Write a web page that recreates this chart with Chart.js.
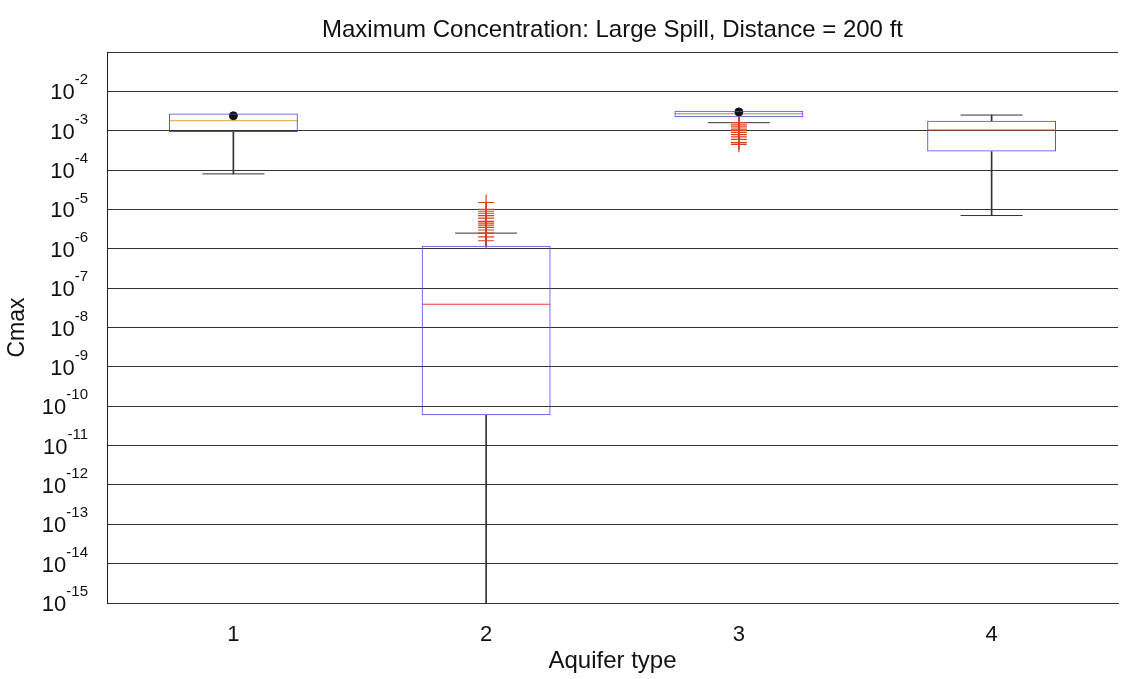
<!DOCTYPE html>
<html>
<head>
    <title>Maximum Concentration</title>
    <script src="https://cdn.jsdelivr.net/npm/chart.js"></script>
    <style>
        body { margin: 0; background: #fff; }
    </style>
</head>
<body>
    <canvas id="myChart" width="1122" height="679"></canvas>

    <script>
        // aquifer types on the x axis
        var categories = ["1", "2", "3", "4"];

        // box statistics per aquifer type (Cmax, log axis)
        var q1 = [9.3e-4, 5.9e-11, 2.2e-3, 2.95e-4];
        var q3 = [2.75e-3, 1.2e-6, 3.2e-3, 1.8e-3];
        var medians = [1.8e-3, 3.9e-8, 2.7e-3, 1.05e-3];
        var whiskerLow = [8e-5, 1e-16, 1.6e-3, 7e-6];
        var whiskerHigh = [2.75e-3, 2.5e-6, 3.2e-3, 2.5e-3];
        var meanMarks = [2.4e-3, null, 3.0e-3, null];

        // outliers (red +)
        var outliers2 = [1.5e-5, 1.0e-5, 9e-6, 8e-6, 7e-6, 6e-6, 5e-6, 4.5e-6, 4e-6, 3.5e-6, 3e-6, 2.5e-6, 2e-6, 1.6e-6];
        var outliers3 = [1.6e-3, 1.4e-3, 1.25e-3, 1.1e-3, 1.0e-3, 9e-4, 8e-4, 7e-4, 6e-4, 5e-4, 4.5e-4];

        // y ticks: decades
        var yTicks = [1e-15, 1e-14, 1e-13, 1e-12, 1e-11, 1e-10, 1e-9, 1e-8, 1e-7, 1e-6, 1e-5, 1e-4, 1e-3, 1e-2, 1e-1];
        var yTickExponents = [-15, -14, -13, -12, -11, -10, -9, -8, -7, -6, -5, -4, -3, -2];

        var medianColors = ["#f0a040", "#e83a3a", "#f07030", "#f06a3a"];

        var outlierPoints = outliers2.map(function (v) { return { x: "2", y: v }; })
            .concat(outliers3.map(function (v) { return { x: "3", y: v }; }));

        // caps only where the whisker leaves the box
        var lowCaps = whiskerLow.map(function (v, i) { return v < q1[i] ? v : null; });
        var highCaps = whiskerHigh.map(function (v, i) { return v > q3[i] ? v : null; });

        // tick labels as 10 with raised exponent
        var powerLabels = {
            id: "powerLabels",
            afterDraw: function (chart) {
                var ys = chart.scales.y;
                var ctx = chart.ctx;
                ctx.save();
                ctx.fillStyle = "#111";
                ctx.textBaseline = "middle";
                ctx.textAlign = "right";
                yTickExponents.forEach(function (e) {
                    var y = ys.getPixelForValue(Math.pow(10, e));
                    var right = ys.right - 19;
                    ctx.font = "15px 'Liberation Sans', Arial, sans-serif";
                    var ew = ctx.measureText(String(e)).width;
                    ctx.fillText(String(e), right, y - 11);
                    ctx.font = "22px 'Liberation Sans', Arial, sans-serif";
                    ctx.fillText("10", right - ew, y + 2);
                });
                ctx.restore();
            }
        };

        var ctx = document.getElementById("myChart").getContext("2d");
        new Chart(ctx, {
            data: {
                labels: categories,
                datasets: [
                    {
                        type: "bar",
                        label: "box",
                        data: categories.map(function (c, i) { return [q1[i], q3[i]]; }),
                        backgroundColor: "rgba(0,0,0,0)",
                        borderColor: "#4848ee",
                        borderWidth: 1,
                        borderSkipped: false,
                        barPercentage: 0.51,
                        categoryPercentage: 1,
                        grouped: false,
                        order: 0
                    },
                    {
                        type: "bar",
                        label: "lower whisker",
                        data: categories.map(function (c, i) { return [whiskerLow[i], q1[i]]; }),
                        backgroundColor: "#333",
                        borderWidth: 0,
                        barThickness: 1,
                        grouped: false,
                        order: 3
                    },
                    {
                        type: "bar",
                        label: "upper whisker",
                        data: categories.map(function (c, i) { return [q3[i], whiskerHigh[i]]; }),
                        backgroundColor: "#333",
                        borderWidth: 0,
                        barThickness: 1,
                        grouped: false,
                        order: 3
                    },
                    {
                        type: "line",
                        label: "lower cap",
                        data: lowCaps,
                        showLine: false,
                        pointStyle: "line",
                        pointRadius: 31,
                        pointHoverRadius: 31,
                        pointBorderColor: "#333",
                        pointBorderWidth: 1,
                        clip: 0,
                        order: 2
                    },
                    {
                        type: "line",
                        label: "upper cap",
                        data: highCaps,
                        showLine: false,
                        pointStyle: "line",
                        pointRadius: 31,
                        pointHoverRadius: 31,
                        pointBorderColor: "#333",
                        pointBorderWidth: 1,
                        clip: 0,
                        order: 2
                    },
                    {
                        type: "line",
                        label: "median",
                        data: medians,
                        showLine: false,
                        pointStyle: "line",
                        pointRadius: 64,
                        pointHoverRadius: 64,
                        pointBorderColor: medianColors,
                        pointBorderWidth: 1,
                        order: 1
                    },
                    {
                        type: "line",
                        label: "outliers",
                        data: outlierPoints,
                        showLine: false,
                        pointStyle: "cross",
                        pointRadius: 8,
                        pointHoverRadius: 8,
                        pointBorderColor: "#d8401e",
                        pointBorderWidth: 1.2,
                        order: 1
                    },
                    {
                        type: "line",
                        label: "mean",
                        data: meanMarks,
                        showLine: false,
                        pointStyle: "circle",
                        pointRadius: 4,
                        pointHoverRadius: 4,
                        pointBackgroundColor: "#111",
                        pointBorderColor: "#111",
                        order: 0
                    }
                ]
            },
            options: {
                responsive: false,
                animation: false,
                devicePixelRatio: 1,
                layout: { autoPadding: false, padding: { left: 0, right: 4, top: 0, bottom: 0 } },
                plugins: {
                    legend: { display: false },
                    tooltip: { enabled: false },
                    title: {
                        display: true,
                        fullSize: false,
                        text: "Maximum Concentration: Large Spill, Distance = 200 ft",
                        color: "#111",
                        font: { family: "'Liberation Sans', Arial, sans-serif", size: 24, weight: "normal" },
                        padding: { top: 16, bottom: 7.2 }
                    }
                },
                scales: {
                    x: {
                        type: "category",
                        grid: { display: false, drawTicks: false },
                        border: { display: true, color: "#333", width: 1 },
                        ticks: {
                            color: "#111",
                            padding: 19,
                            font: { family: "'Liberation Sans', Arial, sans-serif", size: 22 }
                        },
                        title: {
                            display: true,
                            text: "Aquifer type",
                            color: "#111",
                            font: { family: "'Liberation Sans', Arial, sans-serif", size: 24 },
                            padding: { top: 0, bottom: 3 }
                        },
                        afterFit: function (scale) { scale.height = 76; }
                    },
                    y: {
                        type: "logarithmic",
                        min: 1e-15,
                        max: 1e-1,
                        grid: { color: "#333", lineWidth: 1, drawTicks: false },
                        border: { display: true, color: "#222", width: 1 },
                        ticks: { display: false },
                        afterBuildTicks: function (scale) {
                            scale.ticks = yTicks.map(function (v) { return { value: v }; });
                        },
                        title: {
                            display: true,
                            text: "Cmax",
                            color: "#111",
                            font: { family: "'Liberation Sans', Arial, sans-serif", size: 23 },
                            padding: { top: 4, bottom: 0 }
                        },
                        afterFit: function (scale) { scale.width = 107; }
                    }
                }
            },
            plugins: [powerLabels]
        });
    </script>
</body>
</html>
